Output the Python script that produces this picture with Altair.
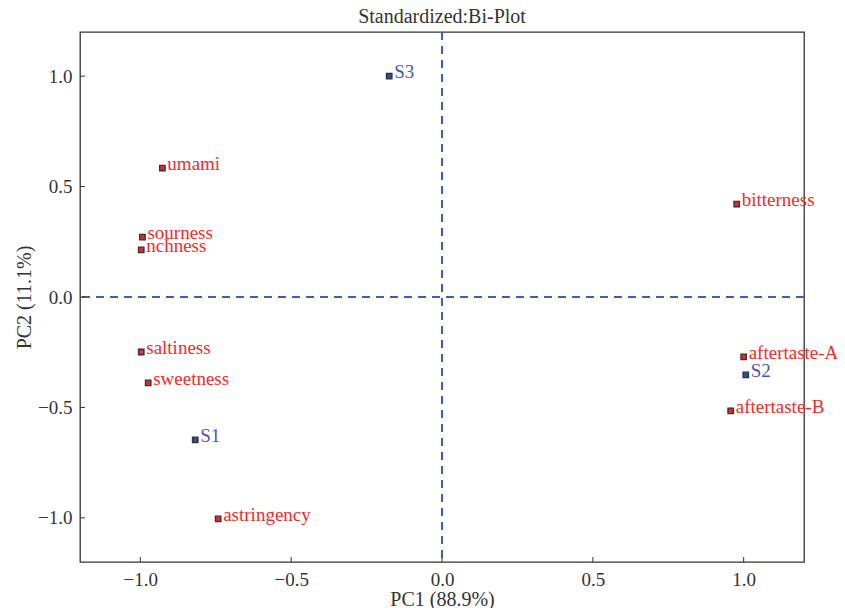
import altair as alt
import pandas as pd

names = ["S3", "umami", "sourness", "nchness", "saltiness", "sweetness", "S1",
         "astringency", "bitterness", "aftertaste-A", "S2", "aftertaste-B"]
pc1 = [-0.175, -0.927, -0.993, -0.997, -0.997, -0.974, -0.818, -0.742, 0.977, 1.000, 1.007, 0.957]
pc2 = [1.000, 0.584, 0.271, 0.213, -0.249, -0.389, -0.647, -1.005, 0.421, -0.271, -0.353, -0.516]
kinds = ["sample", "attr", "attr", "attr", "attr", "attr", "sample",
         "attr", "attr", "attr", "sample", "attr"]
tick_values = [-1.0, -0.5, 0.0, 0.5, 1.0]

df = pd.DataFrame({"name": names, "pc1": pc1, "pc2": pc2, "kind": kinds})
ticks = pd.DataFrame({"t": tick_values})

W, H = 724, 530
FONT = "Liberation Serif"

xs = alt.Scale(domain=[-1.2, 1.2], nice=False, zero=False)
ys = alt.Scale(domain=[-1.2, 1.2], nice=False, zero=False)

xaxis = alt.Axis(values=tick_values, format=".1f", title="PC1 (88.9%)", ticks=False,
                 domain=False, grid=False, labelFont=FONT, labelFontSize=19,
                 labelColor="#333", labelPadding=8, titleFont=FONT, titleFontSize=20,
                 titleFontWeight="normal", titleColor="#333", titlePadding=0)
yaxis = alt.Axis(values=tick_values, format=".1f", title="PC2 (11.1%)", ticks=False,
                 domain=False, grid=False, labelFont=FONT, labelFontSize=19,
                 labelColor="#333", labelPadding=8, titleFont=FONT, titleFontSize=20,
                 titleFontWeight="normal", titleColor="#333", titlePadding=3)

base = alt.Chart(df)

vline = alt.Chart(ticks).mark_rule(color="#3f5fbf", strokeDash=[8, 6], strokeWidth=1.5).encode(
    x=alt.datum(0, scale=xs, axis=xaxis, type="quantitative"))
hline = alt.Chart(ticks).mark_rule(color="#3f5fbf", strokeDash=[8, 6], strokeWidth=1.5).encode(
    y=alt.datum(0, scale=ys, axis=yaxis, type="quantitative"))

xticks = alt.Chart(ticks).mark_rule(color="#333", strokeWidth=1).encode(
    x=alt.X("t:Q", scale=xs, axis=xaxis), y=alt.value(H), y2=alt.value(H - 5))
yticks = alt.Chart(ticks).mark_rule(color="#333", strokeWidth=1).encode(
    y=alt.Y("t:Q", scale=ys, axis=yaxis), x=alt.value(0), x2=alt.value(5))

color_fill = alt.Scale(domain=["attr", "sample"], range=["#e8262a", "#2a4f9e"])
color_text = alt.Scale(domain=["attr", "sample"], range=["#f42a2a", "#4a55b5"])

pts = base.mark_square(size=30, stroke="#333", strokeWidth=1.3, opacity=1).encode(
    x=alt.X("pc1:Q", scale=xs, axis=xaxis),
    y=alt.Y("pc2:Q", scale=ys, axis=yaxis),
    fill=alt.Fill("kind:N", scale=color_fill, legend=None),
)
labels = base.mark_text(align="left", baseline="alphabetic", dx=5, dy=2,
                        font=FONT, fontSize=19).encode(
    x=alt.X("pc1:Q", scale=xs, axis=xaxis),
    y=alt.Y("pc2:Q", scale=ys, axis=yaxis),
    text="name:N",
    color=alt.Color("kind:N", scale=color_text, legend=None),
)

chart = alt.layer(vline, hline, xticks, yticks, pts, labels).properties(
    width=W, height=H,
    title=alt.TitleParams("Standardized:Bi-Plot", font=FONT, fontSize=20,
                          fontWeight="normal", color="#333", offset=4),
    autosize=alt.AutoSizeParams(type="none"),
    padding={"left": 72, "top": 24, "right": 33, "bottom": 46},
).configure(background="white").configure_view(stroke="#333", strokeWidth=1.3)

chart.save("out.html", embed_options={"renderer": "svg", "actions": False})
